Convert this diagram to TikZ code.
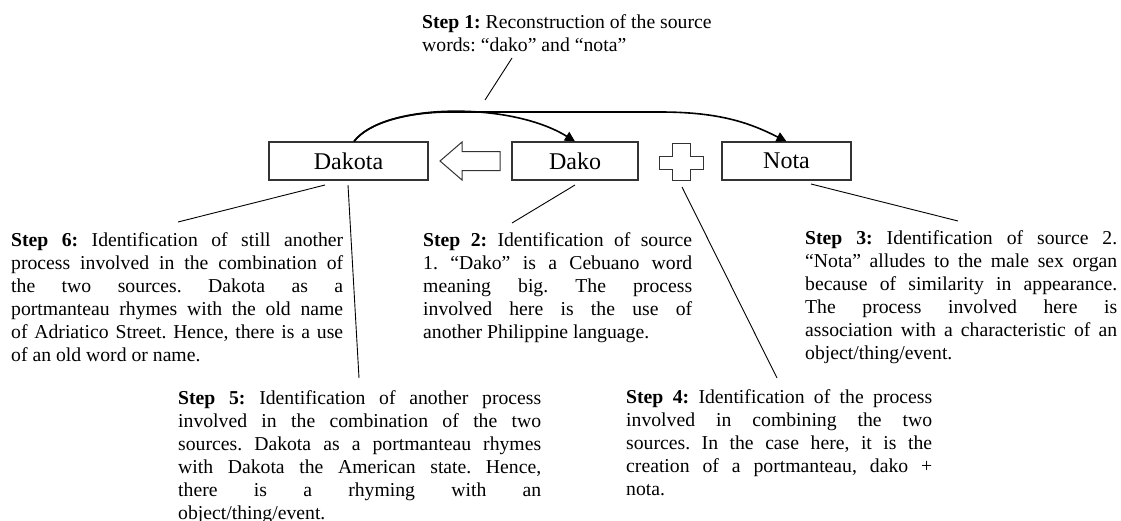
\documentclass[tikz,border=0pt]{standalone}
\usepackage{fontspec}
\setmainfont{Liberation Serif}
\usetikzlibrary{arrows.meta}
\frenchspacing
\newcommand{\bodyfont}{\fontsize{19.7}{23}\selectfont}
\newcommand{\stepbody}[2]{\parbox[t]{#1}{\frenchspacing\tolerance=10000\hbadness=10000\hyphenpenalty=10000 #2}}
\begin{document}
\begin{tikzpicture}[x=1pt,y=-1pt,
  wordbox/.style={draw=black!80, line width=1.1pt, minimum height=38pt, inner sep=0pt, font=\fontsize{24}{28}\selectfont},
  steptext/.style={inner sep=0pt, anchor=base west, font=\bodyfont},
  leader/.style={draw=black, line width=0.9pt},
  flow/.style={draw=black, line width=1.6pt, -{Triangle[length=10pt,width=10pt]}},
  outline/.style={draw=black!80, line width=1pt, fill=white}]
\useasboundingbox[fill=white] (0,0) rectangle (1121,520);

% word boxes
\node[wordbox, minimum width=159pt] (dakota) at (348.5,161) {Dakota};
\node[wordbox, minimum width=126pt] (dako) at (575,161) {Dako};
\node[wordbox, minimum width=129pt] (nota) at (786.5,161) {Nota};

% hollow arrow and plus sign
\draw[outline] (440,161) -- (462,142) -- (462,151.5) -- (500,151.5) -- (500,170.5)
  -- (462,170.5) -- (462,180) -- cycle;
\draw[outline] (672,143) -- (690,143) -- (690,156) -- (703,156) -- (703,169) -- (690,169)
  -- (690,180) -- (672,180) -- (672,169) -- (659,169) -- (659,156) -- (672,156) -- cycle;

% flow curves
\coordinate (dk) at ([xshift=5.5pt]dakota.north);
\draw[flow] (dk) .. controls (383,103) and (510,101) .. (dako.north);
\draw[flow] (dk) .. controls (368.5,122.5) and (407.5,112.25) .. (449,112) -- (660,112)
  .. controls (720,112) and (750,123) .. (nota.north);

% step texts
\node[steptext] (s1) at (422,28) {\parbox[t]{310pt}{\raggedright\textbf{Step 1:} Reconstruction of the source\\ words: “dako” and “nota”}};
\node[steptext] (s6) at (11,246) {\stepbody{332pt}{\textbf{Step 6:} Identification of still another\linebreak process involved in the combination of\linebreak the two sources. Dakota as a\linebreak portmanteau rhymes with the old name\linebreak of Adriatico Street. Hence, there is a use\linebreak of an old word or name.}};
\node[steptext] (s2) at (423,246) {\stepbody{269pt}{\textbf{Step 2:} Identification of source\linebreak 1. “Dako” is a Cebuano word\linebreak meaning big. The process\linebreak involved here is the use of\linebreak another Philippine language.}};
\node[steptext] (s3) at (805,244) {\stepbody{312pt}{\textbf{Step 3:} Identification of source 2.\linebreak “Nota” alludes to the male sex organ\linebreak because of similarity in appearance.\linebreak The process involved here is\linebreak association with a characteristic of an\linebreak object/thing/event.}};
\node[steptext] (s5) at (178,404) {\stepbody{363pt}{\textbf{Step 5:} Identification of another process\linebreak involved in the combination of the two\linebreak sources. Dakota as a portmanteau rhymes\linebreak with Dakota the American state. Hence,\linebreak there is a rhyming with an\linebreak object/thing/event.}};
\node[steptext] (s4) at (626,403) {\stepbody{306pt}{\textbf{Step 4:} Identification of the process\linebreak involved in combining the two\linebreak sources. In the case here, it is the\linebreak creation of a portmanteau, dako +\linebreak nota.}};

% leader lines
\coordinate (e1a) at (512,58);
\coordinate (e1b) at (485,100);
\draw[leader] (e1a) -- (e1b);
\coordinate (e6a) at (325,185);
\coordinate (e6b) at (178,222);
\draw[leader] (e6a) -- (e6b);
\coordinate (e5a) at (348,185);
\coordinate (e5b) at (359,378);
\draw[leader] (e5a) -- (e5b);
\coordinate (e2a) at (575,185);
\coordinate (e2b) at (512,223);
\draw[leader] (e2a) -- (e2b);
\coordinate (e4a) at (682,187);
\coordinate (e4b) at (777,378);
\draw[leader] (e4a) -- (e4b);
\coordinate (e3a) at (811,184);
\coordinate (e3b) at (958,221);
\draw[leader] (e3a) -- (e3b);
\end{tikzpicture}
\end{document}
